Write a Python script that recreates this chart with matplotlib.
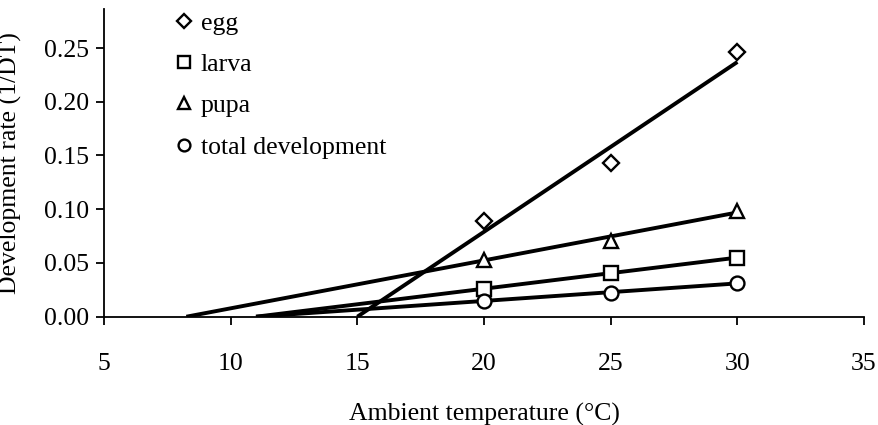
import matplotlib.pyplot as plt
import numpy as np

plt.rcParams['font.family'] = ['Liberation Serif', 'DejaVu Serif']

temps = [20, 25, 30]
stages = ["egg", "larva", "pupa", "total development"]
markers = ["D", "s", "^", "o"]
egg = [0.089, 0.143, 0.246]
larva = [0.026, 0.041, 0.055]
pupa = [0.053, 0.070, 0.098]
total = [0.015, 0.022, 0.031]
rates = [egg, larva, pupa, total]

# fitted lines: lower threshold (rate = 0) and fitted value at 30 C
fit_start = [15.0, 11.0, 8.25, 11.0]
fit_end_x = 30
fit_end_y = [0.237, 0.055, 0.097, 0.031]

fig = plt.figure(figsize=(8.79, 4.25), dpi=100)
ax = fig.add_axes([0.1183, 0.2548, 0.8647, 0.7233])

for x0, y1 in zip(fit_start, fit_end_y):
    ax.plot([x0, fit_end_x], [0, y1], color='black', lw=2.8, solid_capstyle='butt', zorder=2)

handles = []
for name, m, vals in zip(stages, markers, rates):
    ms = 8.5 if m == 'D' else 10
    h, = ax.plot(temps, vals, linestyle='none', marker=m, markersize=ms,
                 markerfacecolor='white', markeredgecolor='black',
                 markeredgewidth=1.7, label=name, zorder=3)
    handles.append(h)

ax.set_xlim(5, 35)
ax.set_ylim(0, 0.286)
ax.set_xticks(np.arange(5, 36, 5))
ax.set_yticks(np.arange(0, 0.26, 0.05))
ax.set_yticklabels(["%.2f" % v for v in np.arange(0, 0.26, 0.05)])
ax.spines['top'].set_visible(False)
ax.spines['right'].set_visible(False)
for s in ['left', 'bottom']:
    ax.spines[s].set_linewidth(1.3)
ax.tick_params(direction='out', length=6, width=1.3, labelsize=18.5, colors='black')
ax.tick_params(axis='x', pad=20)
ax.tick_params(axis='y', pad=5)

ax.set_xlabel("Ambient temperature (°C)", fontsize=18.5, labelpad=20)
# the reference crops this label at the left edge of the figure
ax.set_ylabel("Development rate (1/DT)", fontsize=18.5)
ax.yaxis.set_label_coords(-0.108, 0.5)

leg = ax.legend(handles=handles, loc='upper left', bbox_to_anchor=(0.080, 1.025),
                frameon=False, fontsize=18.5, handlelength=0.7, handletextpad=0.3,
                labelspacing=0.71, markerscale=0.85, borderaxespad=0)

fig.savefig("out.png", dpi=100)
